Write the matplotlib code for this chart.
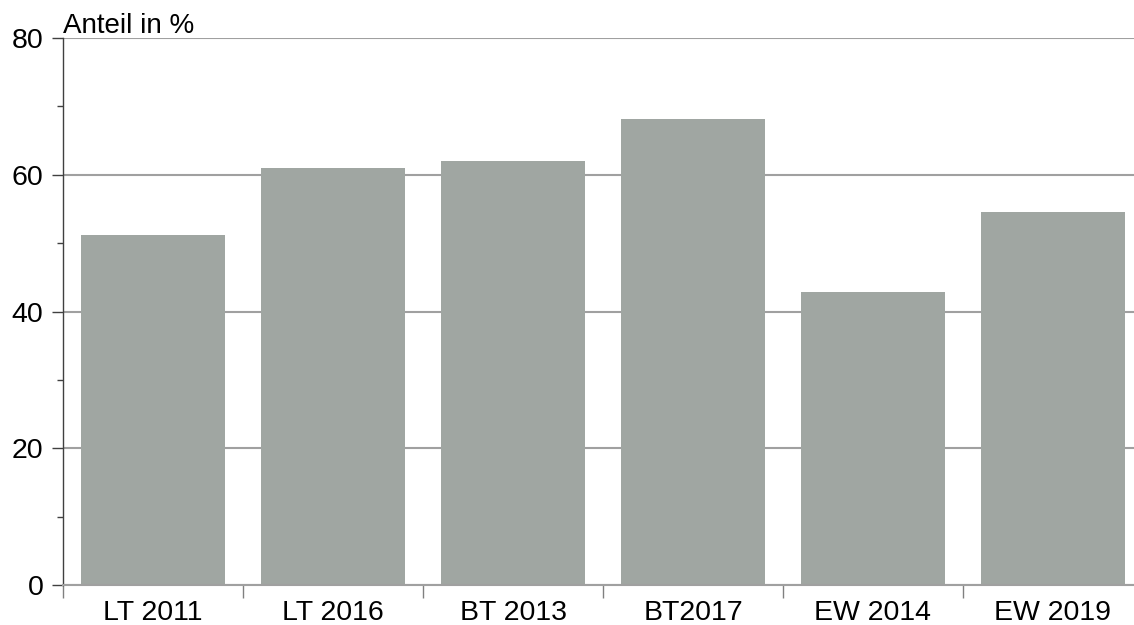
import numpy as np
import matplotlib.pyplot as plt
from matplotlib.ticker import MultipleLocator, FixedLocator

# data
categories = ["LT 2011", "LT 2016", "BT 2013", "BT2017", "EW 2014", "EW 2019"]
shares = [51.2, 61.0, 62.0, 68.2, 42.9, 54.6]

plt.rcParams["font.family"] = ["Liberation Sans", "DejaVu Sans"]


def main():
    fig = plt.figure(figsize=(11.34, 6.25), dpi=100)
    ax = fig.add_axes([63 / 1134, 40 / 625, 1080 / 1134, 547 / 625])

    x = np.arange(len(categories))
    ax.bar(x, shares, width=0.8, color="#a0a6a2", zorder=2)

    ax.set_xlim(-0.5, len(categories) - 0.5)
    ax.set_ylim(0, 80)

    # y axis
    ax.yaxis.set_major_locator(MultipleLocator(20))
    ax.yaxis.set_minor_locator(MultipleLocator(10))
    ax.tick_params(axis="y", which="major", length=8, width=1, color="#404040",
                   labelsize=20.5, pad=6)
    ax.tick_params(axis="y", which="minor", length=4.3, width=1, color="#404040")
    ax.grid(axis="y", color="#a0a0a0", linewidth=1.5, zorder=0)

    # x axis: labels centred, ticks between categories
    ax.set_xticks(x)
    ax.set_xticklabels(categories)
    ax.xaxis.set_minor_locator(FixedLocator(np.arange(-0.5, len(categories), 1.0)))
    ax.tick_params(axis="x", which="major", length=0, labelsize=20.5, pad=10.5)
    ax.tick_params(axis="x", which="minor", length=9, width=1, color="#808080")

    for side in ["top", "right"]:
        ax.spines[side].set_visible(False)
    ax.spines["left"].set_color("#404040")
    ax.spines["left"].set_linewidth(1)
    ax.spines["bottom"].set_color("#a0a0a0")
    ax.spines["bottom"].set_linewidth(1.5)

    ax.annotate("Anteil in %", xy=(0, 1), xycoords="axes fraction",
                xytext=(0, -0.5), textcoords="offset points",
                ha="left", va="bottom", fontsize=20)

    fig.savefig("out.png", dpi=100)


if __name__ == "__main__":
    main()
